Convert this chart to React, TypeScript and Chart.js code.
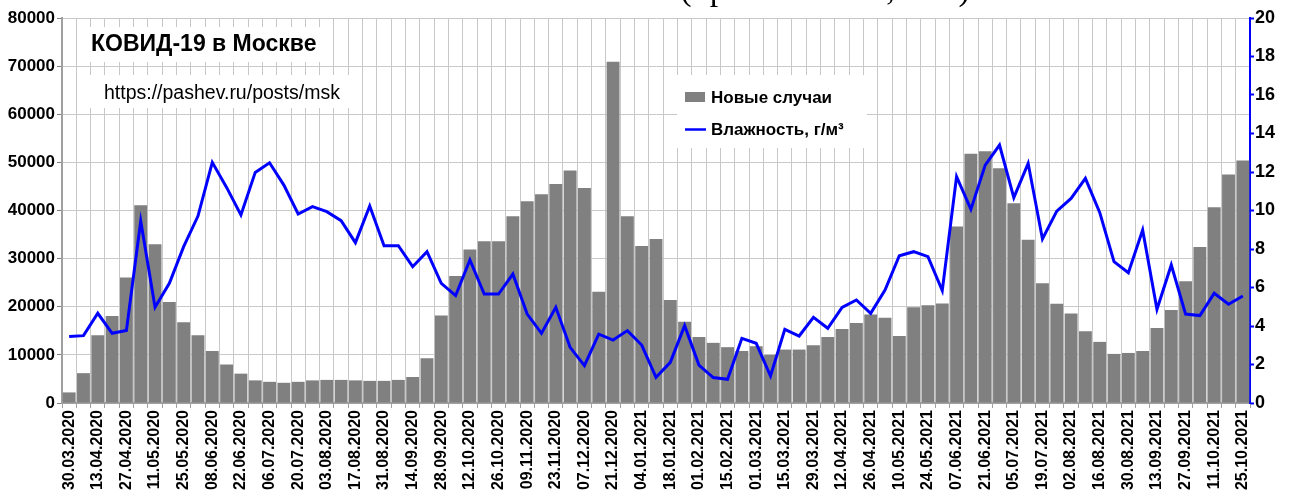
import React, { useEffect, useRef } from "react";
import { Chart, registerables } from "chart.js";

Chart.register(...registerables);

const weeks: string[] = [
  "30.03.2020", "06.04.2020", "13.04.2020", "20.04.2020", "27.04.2020", "04.05.2020", "11.05.2020", "18.05.2020",
  "25.05.2020", "01.06.2020", "08.06.2020", "15.06.2020", "22.06.2020", "29.06.2020", "06.07.2020", "13.07.2020",
  "20.07.2020", "27.07.2020", "03.08.2020", "10.08.2020", "17.08.2020", "24.08.2020", "31.08.2020", "07.09.2020",
  "14.09.2020", "21.09.2020", "28.09.2020", "05.10.2020", "12.10.2020", "19.10.2020", "26.10.2020", "02.11.2020",
  "09.11.2020", "16.11.2020", "23.11.2020", "30.11.2020", "07.12.2020", "14.12.2020", "21.12.2020", "28.12.2020",
  "04.01.2021", "11.01.2021", "18.01.2021", "25.01.2021", "01.02.2021", "08.02.2021", "15.02.2021", "22.02.2021",
  "01.03.2021", "08.03.2021", "15.03.2021", "22.03.2021", "29.03.2021", "05.04.2021", "12.04.2021", "19.04.2021",
  "26.04.2021", "03.05.2021", "10.05.2021", "17.05.2021", "24.05.2021", "31.05.2021", "07.06.2021", "14.06.2021",
  "21.06.2021", "28.06.2021", "05.07.2021", "12.07.2021", "19.07.2021", "26.07.2021", "02.08.2021", "09.08.2021",
  "16.08.2021", "23.08.2021", "30.08.2021", "06.09.2021", "13.09.2021", "20.09.2021", "27.09.2021", "04.10.2021",
  "11.10.2021", "18.10.2021", "25.10.2021",
];

const newCases: number[] = [
  2200, 6200, 14100, 18100, 26100, 41100, 33000, 21000, 16800, 14100,
  10800, 8000, 6100, 4700, 4400, 4200, 4400, 4700, 4800, 4800,
  4700, 4600, 4600, 4800, 5400, 9300, 18200, 26400, 31900, 33600,
  33600, 38800, 41900, 43400, 45500, 48300, 44700, 23100, 70900, 38800,
  32600, 34100, 21400, 16900, 13700, 12500, 11600, 10800, 11800, 10000,
  11100, 11100, 12000, 13700, 15400, 16600, 18400, 17700, 13900, 19900,
  20300, 20700, 36700, 51800, 52300, 48800, 41500, 33900, 24900, 20600,
  18600, 14900, 12700, 10200, 10400, 10800, 15600, 19300, 25300, 32400,
  40700, 47500, 50400,
];

const humidity: number[] = [
  3.46, 3.5, 4.66, 3.62, 3.77, 9.45, 4.97, 6.22, 8.12, 9.71,
  12.5, 11.2, 9.77, 11.98, 12.48, 11.32, 9.82, 10.2, 9.94, 9.47,
  8.33, 10.23, 8.17, 8.17, 7.08, 7.86, 6.22, 5.58, 7.43, 5.66,
  5.66, 6.7, 4.62, 3.62, 4.97, 2.89, 1.94, 3.58, 3.27, 3.76,
  3.01, 1.33, 2.11, 4.02, 1.97, 1.32, 1.23, 3.36, 3.1, 1.4,
  3.83, 3.48, 4.45, 3.88, 4.97, 5.35, 4.66, 5.87, 7.65, 7.86,
  7.6, 5.84, 11.76, 10.06, 12.36, 13.4, 10.67, 12.45, 8.52, 9.97,
  10.63, 11.67, 9.9, 7.34, 6.77, 8.99, 4.87, 7.17, 4.62, 4.54,
  5.7, 5.13, 5.56,
];

const chartTitle = "КОВИД-19 в Москве";
const chartUrl = "https://pashev.ru/posts/msk";
const casesLabel = "Новые случаи";
const humidityLabel = "Влажность, г/м³";
const topCaption = "(правая шкала, г/м³)";

const FONT = "'Liberation Sans', Arial, sans-serif";

const overlayPlugin = {
  id: "overlayBoxes",
  beforeDatasetsDraw(chart: any) {
    const ctx = chart.ctx as CanvasRenderingContext2D;
    ctx.save();
    ctx.fillStyle = "#ffffff";
    ctx.fillRect(80, 27, 250, 35);
    ctx.fillRect(86, 75, 264, 33);
    ctx.fillRect(677, 75, 190, 73);

    ctx.fillStyle = "#000000";
    ctx.textBaseline = "alphabetic";
    ctx.textAlign = "left";
    ctx.font = `bold 23px ${FONT}`;
    ctx.fillText(chartTitle, 91, 51);
    ctx.font = `19.5px ${FONT}`;
    ctx.fillText(chartUrl, 104, 99);

    ctx.fillStyle = "#808080";
    ctx.fillRect(685, 92, 20, 10);
    ctx.strokeStyle = "#0000ff";
    ctx.lineWidth = 2.5;
    ctx.beginPath();
    ctx.moveTo(685, 129.5);
    ctx.lineTo(706, 129.5);
    ctx.stroke();
    ctx.fillStyle = "#000000";
    ctx.font = `bold 17px ${FONT}`;
    ctx.fillText(casesLabel, 711, 103);
    ctx.fillText(humidityLabel, 711, 135);
    ctx.restore();
  },
  afterDraw(chart: any) {
    const ctx = chart.ctx as CanvasRenderingContext2D;
    ctx.save();
    ctx.fillStyle = "#000000";
    ctx.font = `34px 'Liberation Serif', 'Times New Roman', serif`;
    ctx.textAlign = "center";
    ctx.textBaseline = "alphabetic";
    ctx.fillText(topCaption, 825, 0);
    ctx.restore();
  },
};

export default function App() {
  const canvasRef = useRef<HTMLCanvasElement | null>(null);

  useEffect(() => {
    if (!canvasRef.current) return;
    const chart = new Chart(canvasRef.current, {
      type: "bar",
      data: {
        labels: weeks,
        datasets: [
          {
            type: "line",
            label: humidityLabel,
            data: humidity,
            yAxisID: "y1",
            borderColor: "#0000ff",
            backgroundColor: "#0000ff",
            borderWidth: 3,
            pointRadius: 0,
            tension: 0,
            order: 1,
          } as any,
          {
            type: "bar",
            label: casesLabel,
            data: newCases,
            yAxisID: "y",
            backgroundColor: "#808080",
            borderWidth: 0,
            barPercentage: 1,
            categoryPercentage: 0.9,
            order: 2,
          },
        ],
      },
      options: {
        animation: false,
        responsive: true,
        maintainAspectRatio: false,
        layout: { padding: { top: 18, left: 0, right: 0, bottom: 0 } },
        plugins: {
          legend: { display: false },
          tooltip: { enabled: false },
          title: { display: false },
        },
        scales: {
          x: {
            offset: true,
            grid: {
              offset: true,
              color: "#c8c8c8",
              lineWidth: 1,
              tickLength: 5,
              tickColor: "#a0a0a0",
            },
            border: { color: "#a0a0a0", width: 2 },
            ticks: {
              autoSkip: false,
              minRotation: 90,
              maxRotation: 90,
              padding: 2,
              color: "#000000",
              font: { family: FONT, size: 16, weight: "bold" },
              callback: (_v: any, i: number) => (i % 2 === 0 ? weeks[i] : ""),
            },
            afterFit: (s: any) => {
              s.height = 89;
            },
          },
          y: {
            position: "left",
            min: 0,
            max: 80000,
            ticks: {
              stepSize: 10000,
              padding: 2,
              color: "#000000",
              font: { family: FONT, size: 17, weight: "bold" },
              callback: (v: any) => String(v),
            },
            grid: {
              color: "#c8c8c8",
              lineWidth: 1,
              tickLength: 5,
              tickColor: "#808080",
            },
            border: { color: "#a0a0a0", width: 2 },
            afterFit: (s: any) => {
              s.width = 62;
            },
          },
          y1: {
            position: "right",
            min: 0,
            max: 20,
            ticks: {
              stepSize: 2,
              padding: 1,
              color: "#000000",
              font: { family: FONT, size: 18, weight: "bold" },
              callback: (v: any) => String(v),
            },
            grid: {
              drawOnChartArea: false,
              tickLength: 4,
              tickColor: "#0000ff",
              tickWidth: 2,
            },
            border: { color: "#0000ff", width: 2 },
            afterFit: (s: any) => {
              s.width = 41;
            },
          },
        },
      } as any,
      plugins: [overlayPlugin],
    });
    return () => chart.destroy();
  }, []);

  return (
    <div style={{ position: "absolute", left: 0, top: 0, width: 1291, height: 492, background: "#fff" }}>
      <canvas ref={canvasRef} />
    </div>
  );
}
